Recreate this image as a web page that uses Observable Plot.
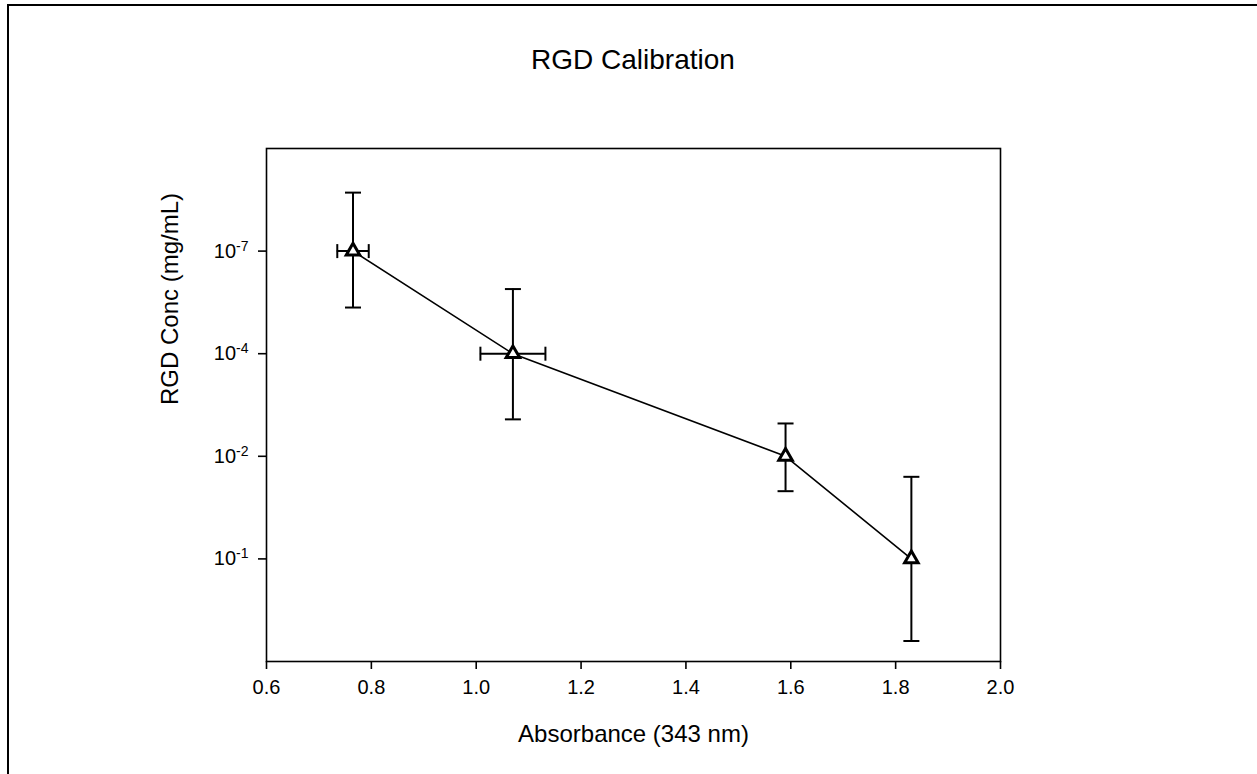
<!DOCTYPE html>
<html><head><meta charset="utf-8">
<script src="https://cdn.jsdelivr.net/npm/d3@7"></script>
<script src="https://cdn.jsdelivr.net/npm/@observablehq/plot@0.6"></script>
<style>
body{margin:0;background:#fff;font-family:"Liberation Sans",Arial,sans-serif;}
#wrap{position:relative;width:1257px;height:774px;overflow:hidden;background:#fff}
#border{position:absolute;left:7px;top:4px;width:1300px;height:900px;border-top:2px solid #000;border-left:2px solid #000;box-sizing:border-box}
#title{position:absolute;left:266px;width:734px;top:45px;height:30px;line-height:30px;text-align:center;font-size:28px;color:#000}
#chart{position:absolute;left:0;top:90px}
</style></head>
<body>
<div id="wrap"><div id="border"></div><div id="title">RGD Calibration</div><div id="chart"></div></div>
<script>
const absorbance = [0.765, 1.07, 1.59, 1.83];
const absorbanceErr = [0.03, 0.062, 0, 0];
const concExponent = [-7, -4, -2, -1];
const concRank = [0, 1, 2, 3];
const concErrUp = [0.57, 0.63, 0.32, 0.80];
const concErrDown = [0.55, 0.64, 0.34, 0.80];
const xTicks = [0.6, 0.8, 1.0, 1.2, 1.4, 1.6, 1.8, 2.0];
const title = "RGD Calibration";
const xLabel = "Absorbance (343 nm)";
const yLabel = "RGD Conc (mg/mL)";

const data = absorbance.map((x, i) => ({
  x, xe: absorbanceErr[i], y: concRank[i], up: concErrUp[i], down: concErrDown[i]
}));
const hData = data.filter(d => d.xe > 0);

const hCap = {draw(ctx) { ctx.moveTo(-8, 0); ctx.lineTo(8, 0); }};
const vCap = {draw(ctx) { ctx.moveTo(0, -7); ctx.lineTo(0, 7); }};

const chart = Plot.plot({
  width: 1257,
  height: 684,
  marginLeft: 266,
  marginRight: 257,
  marginTop: 58,
  marginBottom: 113,
  style: {fontFamily: '"Liberation Sans", Arial, sans-serif', color: "#000", background: "transparent"},
  x: {domain: [0.6, 2.0]},
  y: {domain: [-1, 4], reverse: true},
  marks: [
    Plot.frame({stroke: "#000", strokeWidth: 1.6}),
    Plot.axisX({ticks: xTicks, tickFormat: d3.format(".1f"), tickSize: 8, tickPadding: 10, fontSize: 20, label: null, strokeWidth: 1.6}),
    Plot.axisY({ticks: concRank, tickFormat: i => "10^" + concExponent[i], tickSize: 8, tickPadding: 10, fontSize: 20, label: null, strokeWidth: 1.6}),
    Plot.text([xLabel], {frameAnchor: "bottom", lineAnchor: "middle", dy: 73, fontSize: 24, fill: "#000"}),
    Plot.text([yLabel], {frameAnchor: "left", lineAnchor: "middle", dx: -96, rotate: -90, fontSize: 24, fill: "#000"}),
    Plot.ruleX(data, {x: "x", y1: d => d.y - d.up, y2: d => d.y + d.down, stroke: "#000", strokeWidth: 2}),
    Plot.dot(data, {x: "x", y: d => d.y - d.up, symbol: hCap, stroke: "#000", strokeWidth: 2, fill: "none"}),
    Plot.dot(data, {x: "x", y: d => d.y + d.down, symbol: hCap, stroke: "#000", strokeWidth: 2, fill: "none"}),
    Plot.ruleY(hData, {y: "y", x1: d => d.x - d.xe, x2: d => d.x + d.xe, stroke: "#000", strokeWidth: 2}),
    Plot.dot(hData, {x: d => d.x - d.xe, y: "y", symbol: vCap, stroke: "#000", strokeWidth: 2, fill: "none"}),
    Plot.dot(hData, {x: d => d.x + d.xe, y: "y", symbol: vCap, stroke: "#000", strokeWidth: 2, fill: "none"}),
    Plot.line(data, {x: "x", y: "y", stroke: "#000", strokeWidth: 1.6}),
    Plot.dot(data, {x: "x", y: "y", symbol: "triangle", r: 5, fill: "#fff", stroke: "#000", strokeWidth: 3})
  ]
});
document.getElementById("chart").appendChild(chart);

// enforce tick label size
chart.querySelectorAll('[aria-label$="tick label"]').forEach(g => {
  g.setAttribute("font-size", "20");
  g.style.fontSize = "20px";
});

// render exponents as superscripts
chart.querySelectorAll('[aria-label="y-axis tick label"] text').forEach(t => {
  const s = t.textContent;
  const [base, exp] = s.split("^");
  t.textContent = "";
  const ns = "http://www.w3.org/2000/svg";
  const b = document.createElementNS(ns, "tspan");
  b.textContent = base;
  const e = document.createElementNS(ns, "tspan");
  e.textContent = exp;
  e.setAttribute("dy", "-0.5em");
  e.setAttribute("font-size", "14");
  e.style.fontSize = "14px";
  t.appendChild(b);
  t.appendChild(e);
});
</script>
</body></html>
